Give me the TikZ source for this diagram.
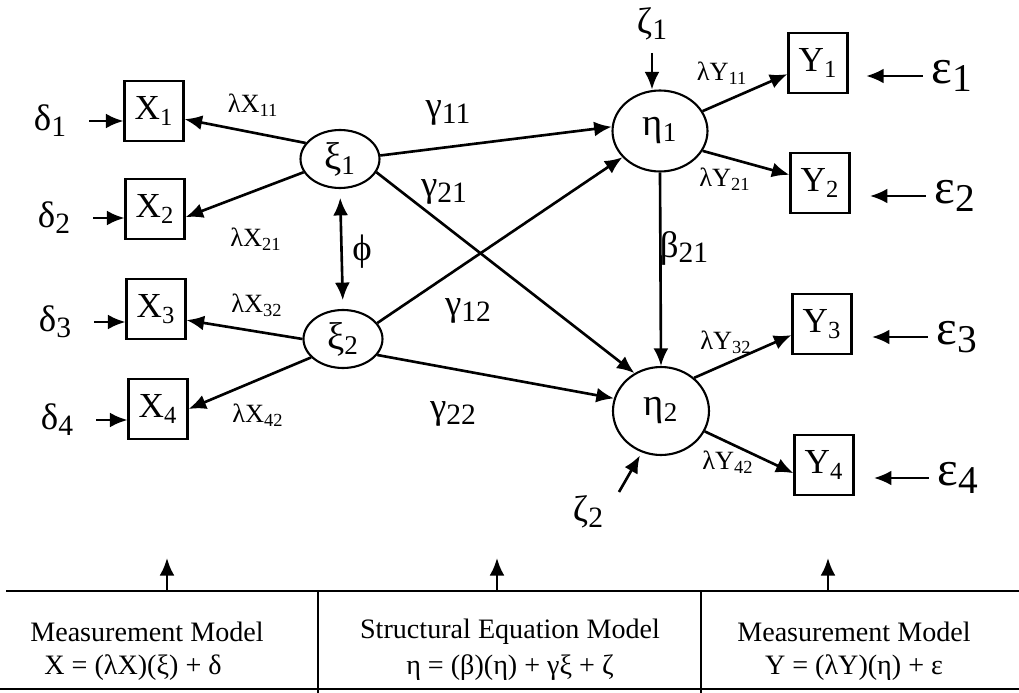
\documentclass[tikz,border=0pt]{standalone}
\usepackage{fontspec}
\setmainfont{Liberation Serif}
\usepackage{tikz}
\usetikzlibrary{arrows.meta,shapes.geometric}
\newcommand{\fs}[1]{\fontsize{#1}{#1}\selectfont}
\newcommand{\bajo}[1]{\raisebox{-0.35ex}{\scalebox{0.8}{#1}}}

\begin{document}
\begin{tikzpicture}[x=0.02cm, y=-0.02cm,
      caja/.style={rectangle, draw, line width=1.2pt, minimum width=1.18cm,
                   minimum height=1.2cm, inner sep=0pt, font=\fs{20}},
      elipse/.style={ellipse, draw, line width=1.2pt, inner sep=0pt, font=\fs{22}},
      flecha/.style={-{Latex[length=10pt,width=8.5pt]}, line width=1.5pt},
      doble/.style={{Latex[length=10pt,width=8.5pt]}-{Latex[length=10pt,width=8.5pt]}, line width=1.5pt},
      griega/.style={font=\fs{21}, inner sep=1pt},
      error/.style={font=\fs{28}, inner sep=1pt},
      carga/.style={font=\fs{15}, inner sep=0pt},
      panel/.style={font=\fs{16}}
    ]
    \useasboundingbox (0,0) rectangle (1019,693);
    % variables observadas
    \node[caja] (x1) at (154,111) {X\textsubscript{1}};
    \node[caja] (x2) at (155,209) {X\textsubscript{2}};
    \node[caja] (x3) at (156,309) {X\textsubscript{3}};
    \node[caja] (x4) at (158,409) {X\textsubscript{4}};
    \node[caja] (y1) at (818,63) {Y\textsubscript{1}};
    \node[caja] (y2) at (820,183) {Y\textsubscript{2}};
    \node[caja] (y3) at (822,324) {Y\textsubscript{3}};
    \node[caja] (y4) at (824,465) {Y\textsubscript{4}};
    % variables latentes
    \node[elipse, minimum width=1.58cm, minimum height=1.16cm] (xi1) at (340,159) {ξ\textsubscript{1}};
    \node[elipse, minimum width=1.58cm, minimum height=1.16cm] (xi2) at (343,339) {ξ\textsubscript{2}};
    \node[elipse, minimum width=1.9cm, minimum height=1.62cm] (eta1) at (660,131) {η\textsubscript{1}};
    \node[elipse, minimum width=1.92cm, minimum height=1.76cm] (eta2) at (661,411) {η\textsubscript{2}};
    % errores
    \node[griega] (d1) at (50,121) {δ\bajo{1}};
    \node[griega] (d2) at (54,218) {δ\bajo{2}};
    \node[griega] (d3) at (55,322) {δ\bajo{3}};
    \node[griega] (d4) at (57,420) {δ\bajo{4}};
    \node[error] (e1) at (952,76) {ε\bajo{1}};
    \node[error] (e2) at (955,196) {ε\bajo{2}};
    \node[error] (e3) at (957,337) {ε\bajo{3}};
    \node[error] (e4) at (958,478) {ε\bajo{4}};
    \node[griega] (z1) at (652,24) {ζ\bajo{1}};
    \node[griega] (z2) at (588,512) {ζ\bajo{2}};
    \coordinate (z2a) at (619,492);
    \draw[flecha, shorten <=12pt] (d1.east) -- (d1.east -| x1.west);
    \draw[flecha, shorten <=12pt] (d2.east) -- (d2.east -| x2.west);
    \draw[flecha, shorten <=12pt] (d3.east) -- (d3.east -| x3.west);
    \draw[flecha, shorten <=12pt] (d4.east) -- (d4.east -| x4.west);
    \draw[flecha, shorten <=4pt, shorten >=10pt] (e1.west) -- (e1.west -| y1.east);
    \draw[flecha, shorten <=4pt, shorten >=11pt] (e2.west) -- (e2.west -| y2.east);
    \draw[flecha, shorten <=4pt, shorten >=11pt] (e3.west) -- (e3.west -| y3.east);
    \draw[flecha, shorten <=4pt, shorten >=11pt] (e4.west) -- (e4.west -| y4.east);
    \draw[flecha, shorten <=6pt] (z1) -- (z1 |- eta1.north);
    \draw[flecha, shorten >=2pt] (z2a) -- (eta2.245);
    % modelo de medida
    \draw[flecha] (xi1.155) -- (x1.345);
    \draw[flecha] (xi1.200) -- (x2.345);
    \draw[flecha] (xi2.180) -- (x3.340);
    \draw[flecha] (xi2.210) -- (x4.east);
    \draw[flecha] (eta1.25) -- (y1.200);
    \draw[flecha] (eta1.-25) -- (y2.165);
    \draw[flecha] (eta2.45) -- (y3.200);
    \draw[flecha] (eta2.-25) -- (y4.195);
    \draw[doble, shorten <=5pt, shorten >=5pt] (xi1.south) -- (xi2.north);
    % modelo estructural
    \draw[flecha] (xi1.5) -- (eta1.175);
    \draw[flecha] (xi1.-20) -- (eta2.125);
    \draw[flecha] (xi2.25) -- (eta1.215);
    \draw[flecha] (xi2.-25) -- (eta2.165);
    \draw[flecha] (eta1.south) -- (eta2.north);
    % etiquetas
    \node[carga] (lx11) at (253,105) {λX\textsubscript{11}};
    \node[carga] (lx21) at (256,239) {λX\textsubscript{21}};
    \node[carga] (lx32) at (257,305) {λX\textsubscript{32}};
    \node[carga] (lx42) at (258,415) {λX\textsubscript{42}};
    \node[carga] (ly11) at (722,73) {λY\textsubscript{11}};
    \node[carga] (ly21) at (725,179) {λY\textsubscript{21}};
    \node[carga] (ly32) at (726,342) {λY\textsubscript{32}};
    \node[carga] (ly42) at (728,462) {λY\textsubscript{42}};
    \node[griega] (g11) at (448,113) {γ\bajo{11}};
    \node[griega] (g21) at (444,192) {γ\bajo{21}};
    \node[griega] (g12) at (468,311) {γ\bajo{12}};
    \node[griega] (g22) at (453,414) {γ\bajo{22}};
    \node[griega] (b21) at (684,248) {β\bajo{21}};
    \node[griega] (phi) at (362,252) {ϕ};
    % paneles inferiores
    \draw[line width=1.3pt] (6,591) -- (1019,591);
    \draw[line width=1.5pt] (0,689) -- (1019,689);
    \draw[line width=0.6pt] (318,591) -- (318,693);
    \draw[line width=0.6pt] (701,591) -- (701,693);
    \node[panel] (mm1) at (147,632) {Measurement Model};
    \node[panel] (ec1) at (133,668) {X = (λX)(ξ) + δ};
    \node[panel] (sem) at (510,632) {Structural Equation Model};
    \node[panel] (ec2) at (510,668) {η = (β)(η) + γξ + ζ};
    \node[panel] (mm2) at (854,632) {Measurement Model};
    \node[panel] (ec3) at (854,668) {Y = (λY)(η) + ε};
    \coordinate (p1) at (167,591);
    \coordinate (q1) at (167,558);
    \coordinate (p2) at (497,591);
    \coordinate (q2) at (497,558);
    \coordinate (p3) at (828,591);
    \coordinate (q3) at (828,558);
    \draw[flecha] (p1) -- (q1);
    \draw[flecha] (p2) -- (q2);
    \draw[flecha] (p3) -- (q3);
  \end{tikzpicture}
\end{document}
